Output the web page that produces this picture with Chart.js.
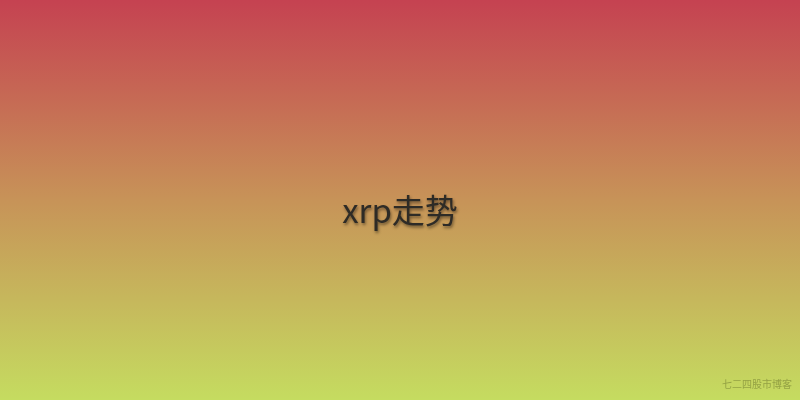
<!DOCTYPE html>
<html>
<head>
<meta charset="utf-8">
<script src="https://cdn.jsdelivr.net/npm/chart.js@4"></script>
<style>
html,body{margin:0;padding:0;background:#fff;}
#wrap{width:800px;height:400px;position:relative;}
</style>
</head>
<body>
<div id="wrap"><canvas id="c" width="800" height="400"></canvas></div>
<script>
const categories = [];
const values = [];
const titleText = "xrp走势";
const watermarkText = "七二四股市博客";
const gradientStops = ["#c54251", "#c79358", "#c5dc60"];

const bgPlugin = {
  id: 'bg',
  beforeDraw(chart) {
    const ctx = chart.ctx, w = chart.width, h = chart.height;
    const g = ctx.createLinearGradient(0, 0, 0, h);
    gradientStops.forEach((c, i) => g.addColorStop(i / (gradientStops.length - 1), c));
    ctx.save();
    ctx.fillStyle = g;
    ctx.fillRect(0, 0, w, h);
    ctx.restore();
  },
  afterDraw(chart) {
    const ctx = chart.ctx, w = chart.width, h = chart.height;
    ctx.save();
    ctx.font = '33px "Noto Sans CJK SC", "Noto Sans", sans-serif';
    ctx.textAlign = 'center';
    ctx.textBaseline = 'middle';
    ctx.shadowColor = 'rgba(0,0,0,0.45)';
    ctx.shadowOffsetX = 1;
    ctx.shadowOffsetY = 2;
    ctx.shadowBlur = 3;
    ctx.fillStyle = '#2e2b26';
    ctx.fillText(titleText, w / 2, 210);
    ctx.restore();
    ctx.save();
    ctx.font = '10px "Noto Sans CJK SC", sans-serif';
    ctx.textAlign = 'right';
    ctx.textBaseline = 'middle';
    ctx.fillStyle = 'rgba(100,110,40,0.5)';
    ctx.fillText(watermarkText, 792, 384);
    ctx.restore();
  }
};

new Chart(document.getElementById('c'), {
  type: 'line',
  data: { labels: categories, datasets: [{ data: values }] },
  options: {
    responsive: false,
    animation: false,
    plugins: { legend: { display: false }, tooltip: { enabled: false } },
    scales: { x: { display: false }, y: { display: false } }
  },
  plugins: [bgPlugin]
});
</script>
</body>
</html>
